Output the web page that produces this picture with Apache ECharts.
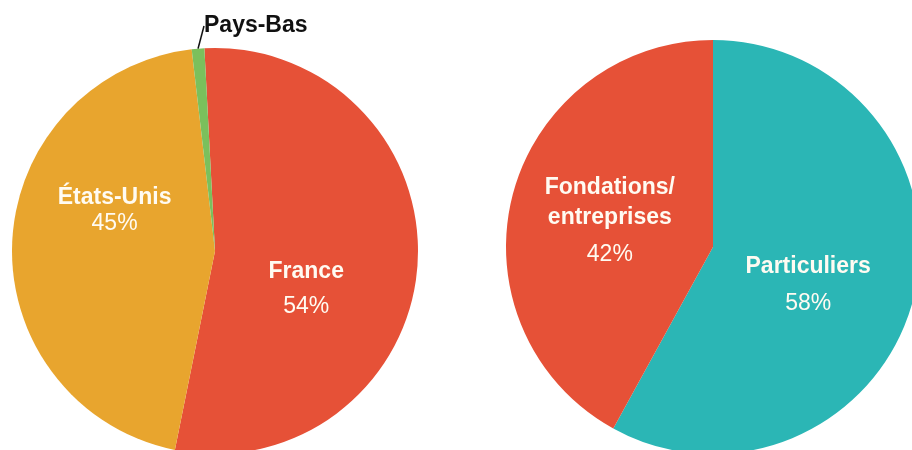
<!DOCTYPE html>
<html><head><meta charset="utf-8">
<script src="https://cdn.jsdelivr.net/npm/echarts@6/dist/echarts.min.js"></script>
<style>html,body{margin:0;padding:0;background:#fff}#c{width:912px;height:450px}</style>
</head><body><div id="c"></div>
<script>
// Left pie: origin of funds by country
const countryNames = ['France', 'États-Unis', 'Pays-Bas'];
const countryValues = [54, 45, 1];
// Right pie: type of donors
const donorNames = ['Particuliers', 'Fondations/\nentreprises'];
const donorValues = [58, 42];

const FONT = '"Liberation Sans", Arial, Helvetica, sans-serif';
const leftColors = ['#E65137', '#E8A52E', '#7BC05C'];
const rightColors = ['#2BB6B5', '#E65137'];
const TXT = '#FFFBF2';

function richLabel(nameLH, pctLH) {
  return {
    n: {fontSize: 23, fontWeight: 'bold', color: TXT, lineHeight: nameLH, fontFamily: FONT},
    p: {fontSize: 23, color: TXT, lineHeight: pctLH, fontFamily: FONT}
  };
}
const insideFmt = '{n|{b}}\n{p|{d}%}';

const leftLabelCfg = {
  'France': {rich: richLabel(34, 36), dx: -13, dy: 31},
  'États-Unis': {rich: richLabel(26, 26), dx: 4, dy: -36}
};
const rightLabelCfg = {
  'Particuliers': {rich: richLabel(36, 38), dx: -8, dy: 12},
  'Fondations/\nentreprises': {rich: richLabel(30, 44), dx: 0, dy: 4}
};

const leftData = countryNames.map((n, i) => {
  const d = {name: n, value: countryValues[i], itemStyle: {color: leftColors[i]}};
  if (n === 'Pays-Bas') {
    d.label = {position: 'outside', formatter: '{b}', color: '#111', fontSize: 23, fontWeight: 'bold', fontFamily: FONT};
    d.labelLine = {show: true, length: 18, length2: 0, lineStyle: {color: '#111', width: 1.5}};
  } else {
    d.label = {position: 'inside', formatter: insideFmt, rich: leftLabelCfg[n].rich};
    d.labelLine = {show: false};
  }
  return d;
});
const rightData = donorNames.map((n, i) => ({
  name: n, value: donorValues[i], itemStyle: {color: rightColors[i]},
  label: {position: 'inside', formatter: insideFmt, rich: rightLabelCfg[n].rich},
  labelLine: {show: false}
}));

const chart = echarts.init(document.getElementById('c'), null, {renderer: 'canvas'});
chart.setOption({
  animation: false,
  backgroundColor: '#ffffff',
  series: [
    {
      type: 'pie', center: [215, 251], radius: 203, startAngle: 93, clockwise: true,
      avoidLabelOverlap: false, silent: true,
      label: {show: true},
      data: leftData,
      labelLayout: function (p) {
        if (p.dataIndex === 2) {
          return {x: 204, y: 26, align: 'left', verticalAlign: 'middle'};
        }
        const c = leftLabelCfg[countryNames[p.dataIndex]];
        return {dx: c.dx, dy: c.dy};
      }
    },
    {
      type: 'pie', center: [713, 247], radius: 207, startAngle: 90, clockwise: true,
      avoidLabelOverlap: false, silent: true,
      label: {show: true},
      data: rightData,
      labelLayout: function (p) {
        const c = rightLabelCfg[donorNames[p.dataIndex]];
        return {dx: c.dx, dy: c.dy};
      }
    }
  ]
});
</script></body></html>
